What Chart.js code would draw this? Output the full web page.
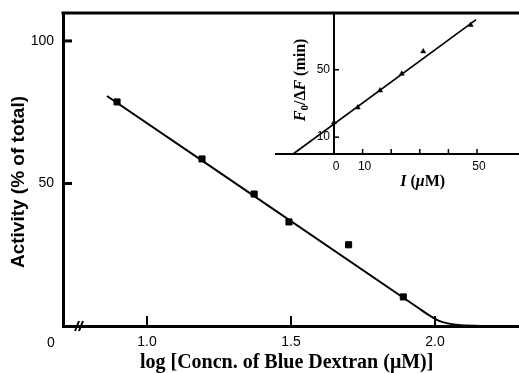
<!DOCTYPE html>
<html><head><meta charset="utf-8">
<script src="https://cdn.jsdelivr.net/npm/chart.js@4"></script>
<style>
html,body{margin:0;padding:0;background:#fff;}
#wrap{position:relative;width:519px;height:373px;overflow:hidden;background:#fff;}
#main{position:absolute;left:0;top:0;width:519px;height:373px;}
#inset{position:absolute;left:260px;top:0;width:259px;height:190px;}
</style></head><body>
<div id="wrap"><canvas id="main" width="519" height="373"></canvas><canvas id="inset" width="259" height="190"></canvas></div>
<script>
// ---------- data ----------
// main plot: measured points (squares)
const mainPointsX = [0.896, 1.191, 1.372, 1.493, 1.700, 1.890];
const mainPointsY = [78.6, 58.6, 46.3, 36.5, 28.5, 10.2];
// main plot: fitted curve
const mainFitX = [0.861, 1.940, 1.980, 2.010, 2.040, 2.080, 2.160];
const mainFitY = [80.7, 6.5, 3.7, 2.0, 1.0, 0.35, 0.0];
// main axis ticks / labels
const mainXTicks = [1.0, 1.5, 2.0];
const mainYTicks = [50, 100];
const originLabel = '0';
const mainXTitle = 'log [Concn. of Blue Dextran (\u03BCM)]';
const mainYTitle = 'Activity (% of total)';

// inset: measured points (triangles)
const insetPointsX = [0, 8.3, 16.1, 23.7, 31.2, 47.8];
const insetPointsY = [18.7, 27.6, 37.7, 47.6, 60.9, 76.6];
// inset: fitted line
const insetFitX = [-14.3, 49.7];
const insetFitY = [0, 79.8];
// inset ticks / labels
const insetXTicks = [10, 20, 30, 40, 50];
const insetXLabels = [0, 10, 50];
const insetYTicks = [10, 50];
const insetYLabels = [10, 50];

const SANS = '"Liberation Sans", Arial, Helvetica, sans-serif';
const SERIF = '"Liberation Serif", "Times New Roman", serif';

function pts(xs, ys) { return xs.map((x, i) => ({x, y: ys[i]})); }
function seg(ctx, x1, y1, x2, y2) { ctx.beginPath(); ctx.moveTo(x1, y1); ctx.lineTo(x2, y2); ctx.stroke(); }
function drawMixed(ctx, parts, cx, cy) {
  let total = 0;
  parts.forEach(p => { ctx.font = p[1]; total += ctx.measureText(p[0]).width; });
  let xx = cx - total / 2;
  ctx.textAlign = 'left';
  parts.forEach(p => { ctx.font = p[1]; ctx.fillText(p[0], xx, cy + (p[2] || 0)); xx += ctx.measureText(p[0]).width; });
}

// ---------- main chart ----------
const mainDecor = {
  id: 'mainDecor',
  afterDraw(chart) {
    const {ctx, chartArea: a, scales: {x, y}} = chart;
    ctx.save();
    ctx.strokeStyle = '#000'; ctx.fillStyle = '#000';
    ctx.lineWidth = 3;
    seg(ctx, a.left - 1.5, a.top, a.right, a.top);
    mainYTicks.forEach(v => { const py = y.getPixelForValue(v); seg(ctx, a.left, py, a.left + 9, py); });
    ctx.lineWidth = 2;
    mainXTicks.forEach(v => { const px = x.getPixelForValue(v); seg(ctx, px, a.bottom, px, a.bottom - 10); });
    // axis break mark
    const bx = a.left + 15;
    seg(ctx, bx - 3, a.bottom + 5, bx + 1, a.bottom - 5);
    seg(ctx, bx + 1, a.bottom + 5, bx + 5, a.bottom - 5);
    // origin label
    ctx.font = '14px ' + SANS; ctx.textAlign = 'center'; ctx.textBaseline = 'middle';
    ctx.fillText(originLabel, a.left - 12, a.bottom + 17);
    // x title
    ctx.font = 'bold 20px ' + SERIF;
    ctx.fillText(mainXTitle, x.getPixelForValue(1.485), a.bottom + 37);
    // y title
    ctx.save();
    ctx.translate(19, y.getPixelForValue(50.5));
    ctx.rotate(-Math.PI / 2);
    ctx.font = 'bold 19px ' + SANS;
    ctx.fillText(mainYTitle, 0, 0);
    ctx.restore();
    ctx.restore();
  }
};

new Chart(document.getElementById('main'), {
  type: 'scatter',
  data: {
    datasets: [
      { data: pts(mainFitX, mainFitY), showLine: true, borderColor: '#000', borderWidth: 2,
        pointRadius: 0, cubicInterpolationMode: 'monotone', clip: false },
      { data: pts(mainPointsX, mainPointsY), showLine: false, pointStyle: 'rect', pointRadius: 4.3,
        backgroundColor: '#000', borderColor: '#000', borderWidth: 1, clip: false }
    ]
  },
  options: {
    responsive: false, animation: false,
    layout: { autoPadding: false, padding: { top: 13, right: 0, left: 0, bottom: 0 } },
    plugins: { legend: { display: false }, tooltip: { enabled: false } },
    scales: {
      x: {
        type: 'linear', min: 0.7083, max: 2.2917,
        afterFit(s) { s.height = 47; s.paddingLeft = 0; s.paddingRight = 0; },
        afterBuildTicks(s) { s.ticks = mainXTicks.map(v => ({value: v})); },
        grid: { display: false, drawTicks: false },
        border: { display: true, width: 3, color: '#000' },
        ticks: { color: '#000', font: { family: SANS, size: 14 }, padding: 8, maxRotation: 0,
                 autoSkip: false, callback: v => Number(v).toFixed(1) }
      },
      y: {
        type: 'linear', min: 0, max: 109.8,
        afterFit(s) { s.width = 63; s.paddingTop = 0; s.paddingBottom = 0; },
        afterBuildTicks(s) { s.ticks = mainYTicks.map(v => ({value: v})); },
        grid: { display: false, drawTicks: false },
        border: { display: true, width: 3, color: '#000' },
        ticks: { color: '#000', font: { family: SANS, size: 14 }, padding: 9, autoSkip: false,
                 callback: v => String(v) }
      }
    }
  },
  plugins: [mainDecor]
});

// ---------- inset chart ----------
const insetDecor = {
  id: 'insetDecor',
  afterDraw(chart) {
    const {ctx, chartArea: a, scales: {x, y}} = chart;
    const x0 = x.getPixelForValue(0), y0 = y.getPixelForValue(0);
    ctx.save();
    ctx.strokeStyle = '#000'; ctx.fillStyle = '#000';
    ctx.lineWidth = 2;
    seg(ctx, a.left - 1, y0, a.right, y0);
    seg(ctx, x0, a.top, x0, y0);
    ctx.lineWidth = 1.5;
    insetXTicks.forEach(v => { const px = x.getPixelForValue(v); seg(ctx, px, y0, px, y0 - 5); });
    insetYTicks.forEach(v => { const py = y.getPixelForValue(v); seg(ctx, x0, py, x0 + 5, py); });
    ctx.font = '12px ' + SANS; ctx.textBaseline = 'middle';
    ctx.textAlign = 'center';
    insetXLabels.forEach(v => ctx.fillText(String(v), x.getPixelForValue(v) + 2, y0 + 13));
    ctx.textAlign = 'right';
    insetYLabels.forEach(v => ctx.fillText(String(v), x0 - 4, y.getPixelForValue(v)));
    // x title: I (µM)
    const bi = 'italic bold 16px ' + SERIF, b = 'bold 16px ' + SERIF, sub = 'bold 11px ' + SERIF;
    ctx.textBaseline = 'middle';
    drawMixed(ctx, [['I', bi], [' (', b], ['\u03BC', bi], ['M)', b]], x.getPixelForValue(31), y0 + 28);
    // y title: F0/ΔF (min)
    ctx.save();
    ctx.translate(x0 - 33, y.getPixelForValue(44));
    ctx.rotate(-Math.PI / 2);
    drawMixed(ctx, [['F', bi], ['0', sub, 4], ['/\u0394', b], ['F', bi], [' (min)', b]], 0, 0);
    ctx.restore();
    ctx.restore();
  }
};

new Chart(document.getElementById('inset'), {
  type: 'scatter',
  data: {
    datasets: [
      { data: pts(insetFitX, insetFitY), showLine: true, borderColor: '#000', borderWidth: 1.6,
        pointRadius: 0, clip: false },
      { data: pts(insetPointsX, insetPointsY), showLine: false, pointStyle: 'triangle', pointRadius: 3,
        backgroundColor: '#000', borderColor: '#000', borderWidth: 0.5, clip: false }
    ]
  },
  options: {
    responsive: false, animation: false,
    layout: { autoPadding: false, padding: { top: 13, right: 0, left: 16, bottom: 36 } },
    plugins: { legend: { display: false }, tooltip: { enabled: false } },
    scales: {
      x: { type: 'linear', min: -20.28, max: 64.69, display: false },
      y: { type: 'linear', min: 0, max: 83.7, display: false }
    }
  },
  plugins: [insetDecor]
});
</script>
</body></html>
